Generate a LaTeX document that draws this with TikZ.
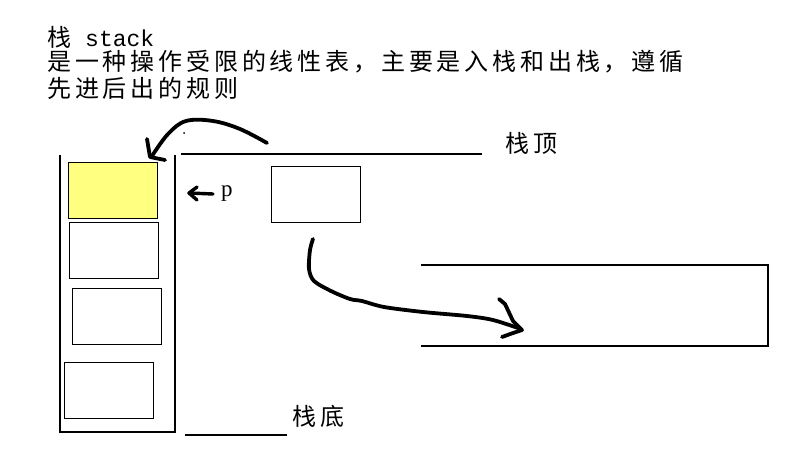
\documentclass[tikz,border=0pt]{standalone}
\usepackage{fontspec}
\newfontfamily\cjk[LetterSpace=16]{Noto Sans CJK SC}
\newfontfamily\mono{Liberation Mono}
\newfontfamily\pfont{Liberation Serif}
\definecolor{topyellow}{HTML}{FFFF80}
\begin{document}
\begin{tikzpicture}[x=1pt,y=-1pt,
  cell/.style={draw, line width=1.1pt, minimum width=89pt, minimum height=56pt,
    inner sep=0pt, anchor=north west},
  rule/.style={line width=1.1pt},
  ink/.style={line width=3.8pt, line cap=round, line join=round},
  caption/.style={anchor=west, inner sep=0pt, font=\cjk\fontsize{24}{25}\selectfont}]
\useasboundingbox (0,0) rectangle (794,471);

% heading
\node[caption] (t1) at (47,37) {栈\hspace{14pt}{\mono\fontsize{23}{24}\selectfont stack}};
\node[caption] (t2) at (47,62) {是一种操作受限的线性表，主要是入栈和出栈，遵循};
\node[caption] (t3) at (47,88) {先进后出的规则};

% the stack container, open at the top
\draw[rule] (60,155) -- (60,432) -- (175,432) -- (175,155);

% stack elements
\node[cell, fill=topyellow] (e1) at (68,162) {};
\node[cell] (e2) at (69,222) {};
\node[cell] (e3) at (72,288) {};
\node[cell] (e4) at (64,362) {};

% top marker and bottom marker
\draw[rule] (181,154) -- (482,154);
\node[caption] (top) at (505,143) {栈顶};
\draw[rule] (185,435) -- (287,435);
\node[caption] (bottom) at (292,416) {栈底};

% element waiting to be pushed
\node[cell] (new) at (271,166) {};

% pointer p
\node[anchor=west, inner sep=0pt, font=\pfont\fontsize{23}{24}\selectfont] (p) at (221,194) {p};
\draw[ink, line width=3.4pt] (p.west) ++(-8,0) -- (189,193);
\draw[ink, line width=3.4pt] (197,187) -- (189,193) -- (197,200);

% push stroke into the top of the stack
\draw[ink] plot[smooth, tension=0.6] coordinates
  {(267,143) (240,129) (213,121) (186,121) (168,134) (152,156)};
\draw[ink] (147,139) -- (150,157) -- (165,160);
\fill (184,133) circle (1pt);

% pop stroke out to the right
\draw[ink] plot[smooth, tension=0.5] coordinates
  {(313,239) (310,250) (309,269) (314,281) (331,291) (350,299) (362,301)
   (384,307) (423,312) (467,316) (493,320) (521,329)};
\draw[ink] (499,299) -- (505,304) -- (513,321) -- (522,330) -- (513,333) -- (502,337);

% popped element region, open on the left
\draw[rule] (421,265) -- (768,265) -- (768,346) -- (421,346);
\end{tikzpicture}
\end{document}
